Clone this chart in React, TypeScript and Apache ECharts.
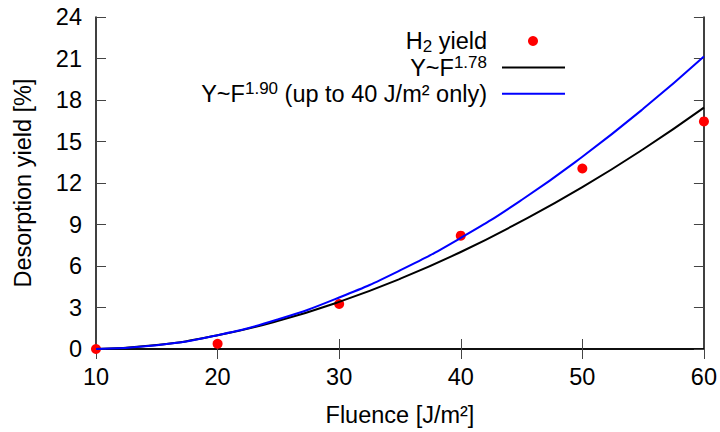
import React, { useEffect, useRef } from "react";
import * as echarts from "echarts";

const fluence = [10, 20, 30, 40, 50, 60];
const h2Yield = [0, 0.38, 3.25, 8.19, 13.05, 16.45];

const fitX = [10, 15, 20, 25, 30, 35, 40, 45, 50, 55, 60];
const fit178 = [0, 0.29, 0.99, 2.04, 3.41, 5.07, 7.01, 9.24, 11.7, 14.44, 17.45];
const fit190 = [0, 0.27, 1.0, 2.15, 3.72, 5.68, 8.03, 10.77, 13.9, 17.36, 21.15];

const xTicks = { min: 10, max: 60, interval: 10 };
const yTicks = { min: 0, max: 24, interval: 3 };

const FONT = "Liberation Sans, Arial, sans-serif";
const FS = 23.5;

export default function App() {
  const ref = useRef<HTMLDivElement>(null);
  useEffect(() => {
    if (!ref.current) return;
    const chart = echarts.init(ref.current, null, { renderer: "svg" });
    const tickStyle = { show: true, inside: true, length: 10, lineStyle: { color: "#444", width: 1 } };
    const lineStyle = { color: "#000", width: 1.5 };
    const legendRows = [41, 67.5, 93.7];
    const rich = {
      a: { fontSize: FS, lineHeight: 27, fontFamily: FONT, color: "#000" },
      sup: { fontSize: 17, lineHeight: 16, verticalAlign: "top", fontFamily: FONT, color: "#000" },
      sub: { fontSize: 17, lineHeight: 16, verticalAlign: "bottom", fontFamily: FONT, color: "#000" },
    };
    const legendText = [
      "{a|H}{sub|2}{a| yield}",
      "{a|Y~F}{sup|1.78}",
      "{a|Y~F}{sup|1.90}{a| (up to 40 J/m² only)}",
    ];
    chart.setOption({
      animation: false,
      textStyle: { fontFamily: FONT },
      grid: { left: 96, right: 15, top: 17, bottom: 78, containLabel: false },
      xAxis: [
        {
          type: "value",
          min: xTicks.min,
          max: xTicks.max,
          interval: xTicks.interval,
          name: "Fluence [J/m²]",
          nameLocation: "middle",
          nameGap: 54,
          nameTextStyle: { fontSize: FS, color: "#000", fontFamily: FONT },
          axisLine: { show: true, lineStyle },
          axisTick: tickStyle,
          axisLabel: { fontSize: FS, color: "#000", margin: 16, fontFamily: FONT },
          splitLine: { show: false },
        },
        {
          type: "value",
          position: "top",
          min: xTicks.min,
          max: xTicks.max,
          interval: xTicks.interval,
          axisLine: { show: true, lineStyle },
          axisTick: tickStyle,
          axisLabel: { show: false },
          splitLine: { show: false },
        },
      ],
      yAxis: [
        {
          type: "value",
          min: yTicks.min,
          max: yTicks.max,
          interval: yTicks.interval,
          name: "Desorption yield [%]",
          nameLocation: "middle",
          nameGap: 61,
          nameTextStyle: { fontSize: FS, color: "#000", fontFamily: FONT },
          axisLine: { show: true, lineStyle },
          axisTick: tickStyle,
          axisLabel: { fontSize: FS, color: "#000", margin: 14, fontFamily: FONT },
          splitLine: { show: false },
        },
        {
          type: "value",
          position: "right",
          min: yTicks.min,
          max: yTicks.max,
          interval: yTicks.interval,
          axisLine: { show: true, lineStyle },
          axisTick: tickStyle,
          axisLabel: { show: false },
          splitLine: { show: false },
        },
      ],
      series: [
        {
          name: "H2 yield",
          type: "scatter",
          data: fluence.map((x, i) => [x, h2Yield[i]]),
          symbol: "circle",
          symbolSize: 10,
          itemStyle: { color: "#ff0000", opacity: 1 },
        },
        {
          name: "Y~F^1.78",
          type: "line",
          data: fitX.map((x, i) => [x, fit178[i]]),
          showSymbol: false,
          smooth: 0.5,
          lineStyle: { color: "#000", width: 2 },
        },
        {
          name: "Y~F^1.90",
          type: "line",
          data: fitX.map((x, i) => [x, fit190[i]]),
          showSymbol: false,
          smooth: 0.5,
          lineStyle: { color: "#0000ff", width: 2 },
        },
      ],
      graphic: [
        ...legendText.map((t, i) => ({
          type: "text",
          x: 487,
          y: legendRows[i],
          style: { text: t, rich, align: "right", verticalAlign: "middle", fill: "#000" },
        })),
        { type: "circle", shape: { cx: 533, cy: legendRows[0], r: 5 }, style: { fill: "#ff0000" } },
        { type: "line", shape: { x1: 502, y1: legendRows[1], x2: 565, y2: legendRows[1] }, style: { stroke: "#000", lineWidth: 2 } },
        { type: "line", shape: { x1: 502, y1: legendRows[2], x2: 565, y2: legendRows[2] }, style: { stroke: "#0000ff", lineWidth: 2 } },
      ],
    });
    return () => chart.dispose();
  }, []);
  return <div ref={ref} style={{ width: 720, height: 432, position: "absolute", left: 0, top: 0 }} />;
}
